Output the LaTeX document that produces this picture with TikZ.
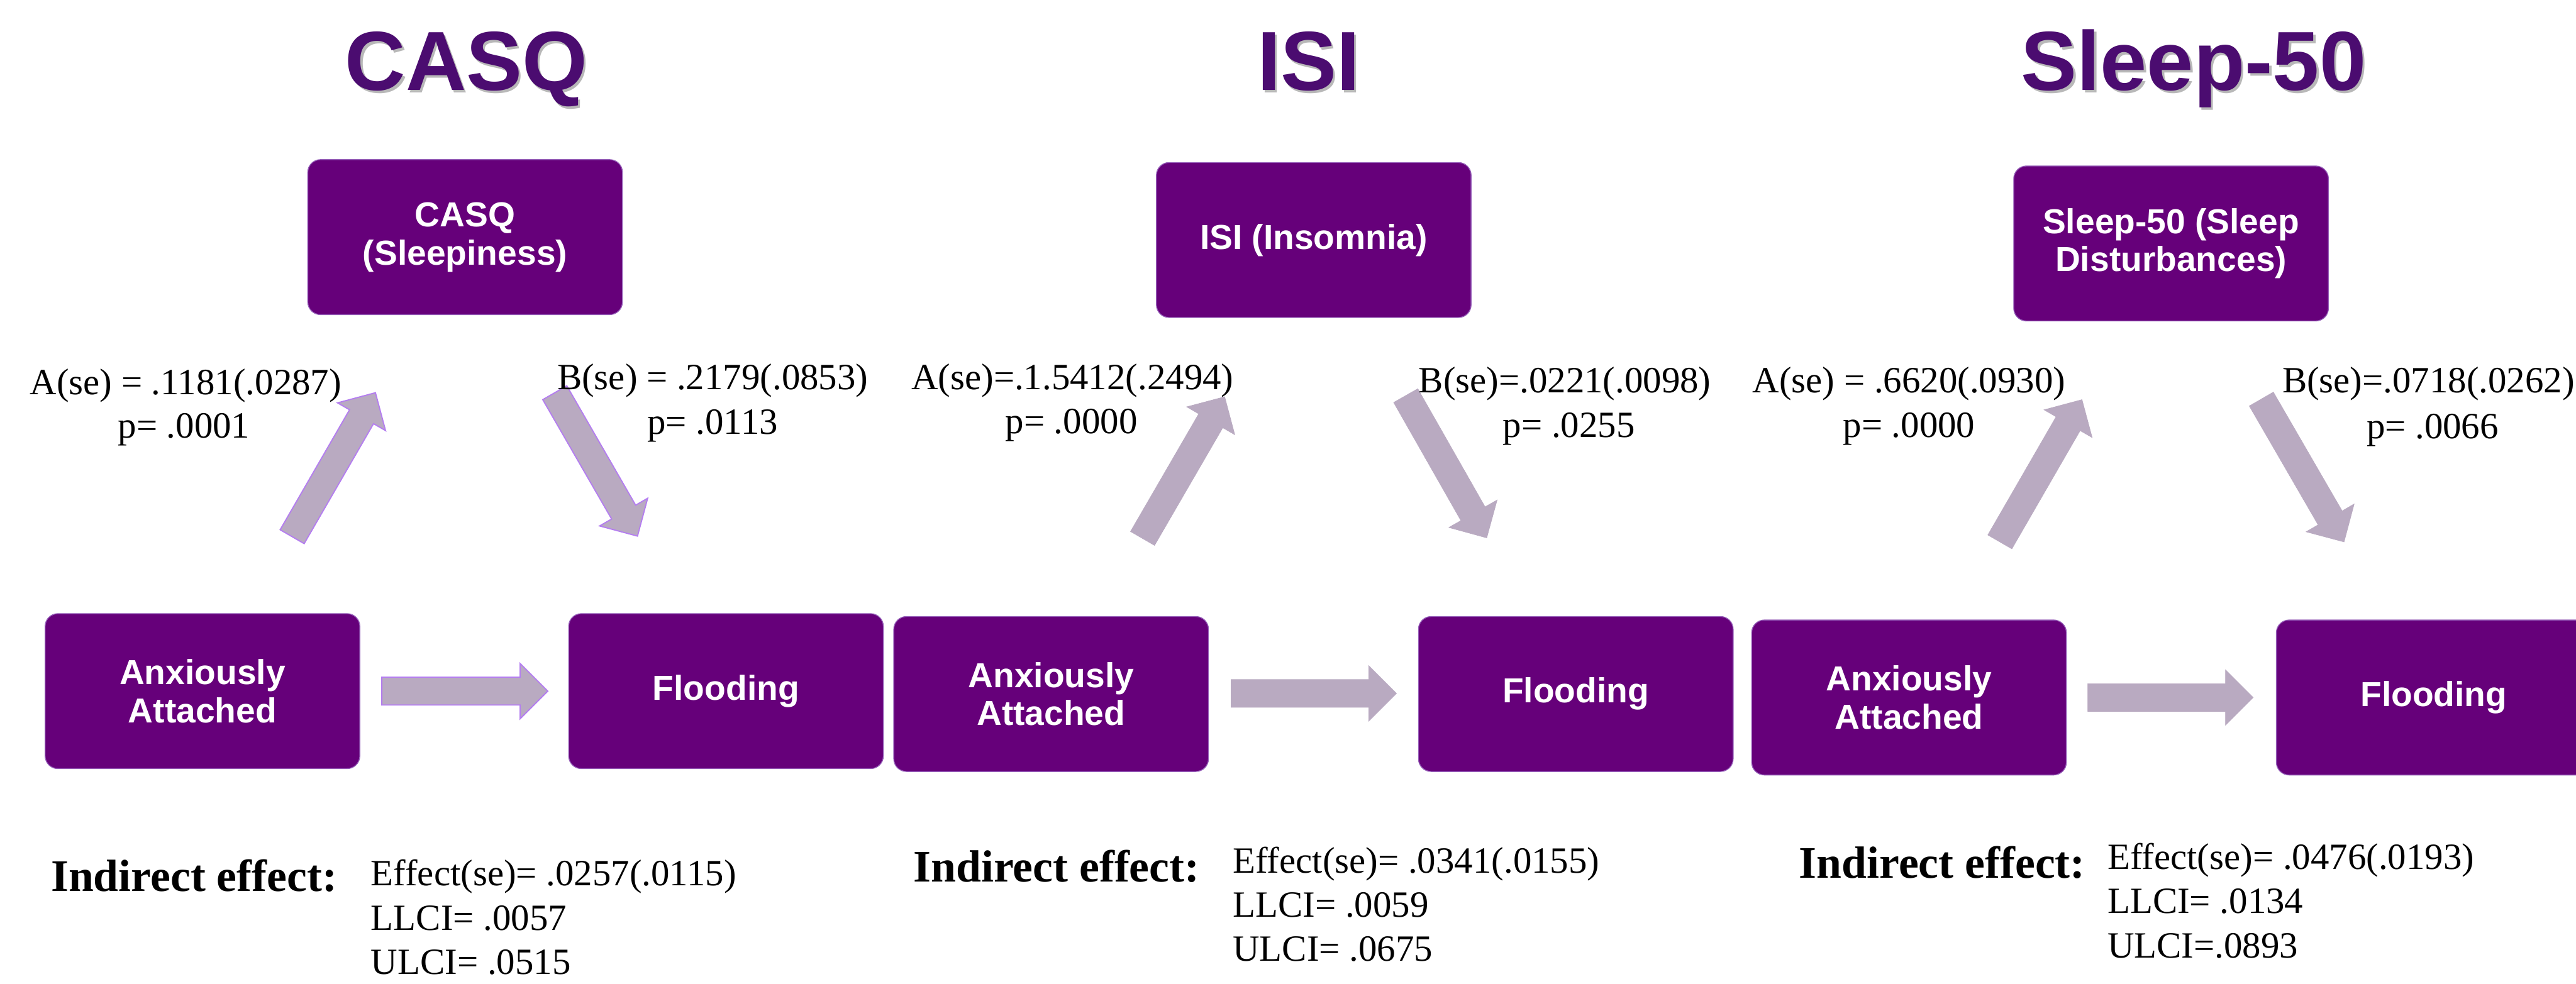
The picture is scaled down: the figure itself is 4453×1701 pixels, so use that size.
\documentclass[tikz,border=0pt]{standalone}
\usepackage{fontspec}
\setmainfont{Liberation Serif}
\newfontfamily\arialf{Liberation Sans}
\usetikzlibrary{calc}
\definecolor{boxfill}{RGB}{102,0,122}
\definecolor{boxedge}{RGB}{150,95,185}
\definecolor{titlecol}{RGB}{75,12,112}
\definecolor{arrowfill}{RGB}{185,170,193}
\definecolor{arrowedge}{RGB}{180,125,240}
\tikzset{
 vbox/.style={rectangle, rounded corners=22bp, fill=boxfill, draw=boxedge, line width=1.5bp,
   minimum width=544bp, minimum height=268bp, text=white, align=center, inner sep=0pt,
   font=\arialf\bfseries\fontsize{60bp}{66bp}\selectfont},
 ttl/.style={font=\arialf\bfseries\fontsize{145bp}{150bp}\selectfont, text=titlecol, anchor=base, inner sep=0pt},
 ttlsh/.style={ttl, text=black, opacity=0.28},
 num/.style={font=\fontsize{64bp}{70bp}\selectfont, anchor=base, inner sep=0pt},
 numl/.style={num, anchor=base west},
 ind/.style={font=\bfseries\fontsize{78bp}{84bp}\selectfont, anchor=base west, inner sep=0pt},
 blk/.style={fill=arrowfill, draw=arrowedge, line width=2bp, line join=miter},
 blkplain/.style={fill=arrowfill, draw=arrowfill, line width=0.8bp, line join=miter},
}
\newcommand\blockarrow[3]{%
  \coordinate (hb) at ($(#3)!48bp!(#2)$);
  \draw[#1] ($(#2)!24bp!90:(#3)$) -- ($(hb)!24bp!90:(#3)$) -- ($(hb)!48bp!90:(#3)$) -- (#3)
     -- ($(hb)!48bp!-90:(#3)$) -- ($(hb)!24bp!-90:(#3)$) -- ($(#2)!24bp!-90:(#3)$) -- cycle;
}
\begin{document}
\begin{tikzpicture}[x=1bp, y=-1bp]
\useasboundingbox (0,0) rectangle (4453,1701);

% titles
\node[ttlsh] (t1s) at (810,160) {CASQ};
\node[ttl] (t1) at (806,156) {CASQ};
\node[ttlsh] (t2s) at (2266,160) {ISI};
\node[ttl] (t2) at (2262,156) {ISI};
\node[ttlsh] (t3s) at (3796,160) {Sleep-50};
\node[ttl] (t3) at (3792,156) {Sleep-50};

% boxes
\node[vbox] (m1) at (804,410) {CASQ\\(Sleepiness)};
\node[vbox] (x1) at (350,1195) {Anxiously\\Attached};
\node[vbox] (y1) at (1255,1195) {Flooding};

\node[vbox] (m2) at (2271,415) {ISI (Insomnia)};
\node[vbox] (x2) at (1817,1200) {Anxiously\\Attached};
\node[vbox] (y2) at (2724,1200) {Flooding};

\node[vbox] (m3) at (3753,421) {Sleep-50 (Sleep\\Disturbances)};
\node[vbox] (x3) at (3300,1206) {Anxiously\\Attached};
\begin{scope}
\clip (0,0) rectangle (4453,1701);
\node[vbox] (y3) at (4207,1206) {Flooding};
\end{scope}

% arrow coordinates
\coordinate (a1t) at (505,928);  \coordinate (a1h) at (649,679);
\coordinate (b1t) at (959,679);  \coordinate (b1h) at (1102,927);
\coordinate (c1t) at (660,1195); \coordinate (c1h) at (947,1195);
\coordinate (a2t) at (1975,931); \coordinate (a2h) at (2117,686);
\coordinate (b2t) at (2430,684); \coordinate (b2h) at (2570,930);
\coordinate (c2t) at (2128,1199); \coordinate (c2h) at (2414,1199);
\coordinate (a3t) at (3457,937); \coordinate (a3h) at (3599,691);
\coordinate (b3t) at (3909,690); \coordinate (b3h) at (4052,937);
\coordinate (c3t) at (3609,1206); \coordinate (c3h) at (3895,1206);

\blockarrow{blk}{a1t}{a1h}
\blockarrow{blk}{b1t}{b1h}
\blockarrow{blk}{c1t}{c1h}
\blockarrow{blkplain}{a2t}{a2h}
\blockarrow{blkplain}{b2t}{b2h}
\blockarrow{blkplain}{c2t}{c2h}
\blockarrow{blkplain}{a3t}{a3h}
\blockarrow{blkplain}{b3t}{b3h}
\blockarrow{blkplain}{c3t}{c3h}

% path labels
\node[num] (la1) at (321,682) {A(se) = .1181(.0287)};
\node[num] (la1p) at (318,757) {p= .0001};
\node[num] (lb1) at (1232,674) {B(se) = .2179(.0853)};
\node[num] (lb1p) at (1232,751) {p= .0113};

\node[num] (la2) at (1854,673) {A(se)=.1.5412(.2494)};
\node[num] (la2p) at (1852,750) {p= .0000};
\node[num] (lb2) at (2705,679) {B(se)=.0221(.0098)};
\node[num] (lb2p) at (2712,756) {p= .0255};

\node[num] (la3) at (3300,679) {A(se) = .6620(.0930)};
\node[num] (la3p) at (3300,756) {p= .0000};
\node[num] (lb3) at (4198,679) {B(se)=.0718(.0262)};
\node[num] (lb3p) at (4205,758) {p= .0066};

% indirect effects
\node[ind] (i1) at (88,1541) {Indirect effect:};
\node[numl] (e1) at (641,1531) {Effect(se)= .0257(.0115)};
\node[numl] (l1) at (641,1608) {LLCI= .0057};
\node[numl] (u1) at (641,1685) {ULCI= .0515};

\node[ind] (i2) at (1579,1525) {Indirect effect:};
\node[numl] (e2) at (2131,1510) {Effect(se)= .0341(.0155)};
\node[numl] (l2) at (2131,1586) {LLCI= .0059};
\node[numl] (u2) at (2131,1662) {ULCI= .0675};

\node[ind] (i3) at (3110,1518) {Indirect effect:};
\node[numl] (e3) at (3643,1503) {Effect(se)= .0476(.0193)};
\node[numl] (l3) at (3643,1579) {LLCI= .0134};
\node[numl] (u3) at (3643,1656) {ULCI=.0893};
\end{tikzpicture}
\end{document}
